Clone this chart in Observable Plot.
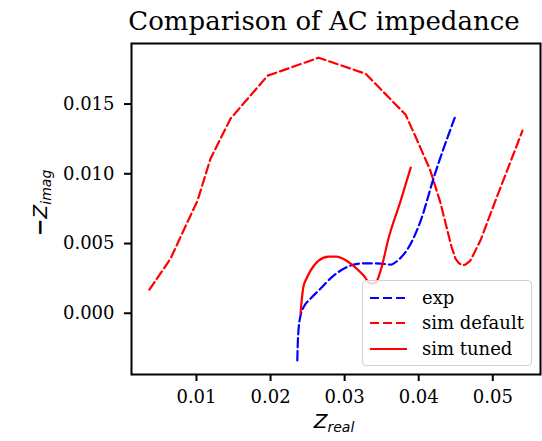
<!DOCTYPE html>
<html><head><meta charset="utf-8">
<script src="https://cdn.jsdelivr.net/npm/d3@7"></script>
<script src="https://cdn.jsdelivr.net/npm/@observablehq/plot@0.6"></script>
<style>
body{margin:0;background:#fff}
#wrap{position:relative;width:542px;height:441px}
#legend{position:absolute;left:362px;top:280px;width:170px;height:86px;background:rgba(255,255,255,0.8);border:1px solid #d0d0d0;border-radius:4px;font-family:"DejaVu Serif";font-size:18px;box-sizing:border-box;color:#000}
.row{position:absolute;left:0;height:20px;display:flex;align-items:center;white-space:nowrap}
.row svg{margin-left:7px;margin-right:15px}
</style></head><body><div id="wrap"></div>
<script>
const title = "Comparison of AC impedance";
const seriesNames = ["exp", "sim default", "sim tuned"];
const seriesColors = ["blue", "red", "red"];
const seriesDash = ["9,4", "9,4", null];

const expX = [0.02361,0.02372,0.02405,0.02459,0.0254,0.02649,0.02851,0.03081,0.03257,0.03486,0.03622,0.03716,0.03892,0.04027,0.04203,0.04486];
const expY = [-0.00338,-0.0016,-0.00016,0.00055,0.00105,0.00163,0.0027,0.00342,0.00358,0.00356,0.00349,0.00378,0.00499,0.00664,0.00972,0.01402];

const defX = [0.00365,0.00649,0.00824,0.01014,0.01189,0.01459,0.0196,0.02649,0.03284,0.03824,0.03982,0.04158,0.04293,0.04442,0.04496,0.04536,0.04586,0.0463,0.04698,0.04833,0.05036,0.05401];
const defY = [0.0017,0.0039,0.00592,0.00807,0.01108,0.01395,0.01703,0.01832,0.01717,0.01423,0.01237,0.01022,0.00793,0.00478,0.00392,0.00363,0.00342,0.00349,0.00378,0.00521,0.00807,0.01309];

const tunX = [0.02405,0.02442,0.02486,0.0254,0.02649,0.02784,0.02892,0.02973,0.03081,0.03257,0.03351,0.03419,0.03486,0.03595,0.03757,0.03892];
const tunY = [0.0,0.00186,0.00249,0.00306,0.00378,0.00406,0.00406,0.00392,0.00356,0.0027,0.00213,0.0022,0.00306,0.00542,0.00807,0.01044];

const xTicks = [0.01, 0.02, 0.03, 0.04, 0.05];
const yTicks = [0, 0.005, 0.01, 0.015];

const toRows = (xs, ys) => xs.map((x, i) => ({x, y: ys[i]}));
const expData = toRows(expX, expY);
const defData = toRows(defX, defY);
const tunData = toRows(tunX, tunY);

const chart = Plot.plot({
  width: 542, height: 441,
  marginLeft: 131, marginRight: 2, marginTop: 43, marginBottom: 67,
  style: {fontFamily: "DejaVu Serif", fontSize: "18px", color: "#000", background: "#fff"},
  x: {domain: [0.00123, 0.05644]},
  y: {domain: [-0.00439, 0.01934]},
  marks: [
    Plot.line(defData, {x: "x", y: "y", stroke: seriesColors[1], strokeWidth: 2.2, strokeDasharray: seriesDash[1], curve: "linear"}),
    Plot.line(expData, {x: "x", y: "y", stroke: seriesColors[0], strokeWidth: 2.2, strokeDasharray: seriesDash[0], curve: "monotone-x"}),
    Plot.line(tunData, {x: "x", y: "y", stroke: seriesColors[2], strokeWidth: 2.2, curve: "monotone-x"}),
    Plot.frame({stroke: "#000", strokeWidth: 2}),
    Plot.axisX({ticks: xTicks, tickFormat: d3.format(".2f"), tickSize: 7, tickPadding: 9, strokeWidth: 2, label: null}),
    Plot.axisY({ticks: yTicks, tickFormat: d3.format(".3f"), tickSize: 7, tickPadding: 10, strokeWidth: 2, label: null}),
    Plot.text([title], {frameAnchor: "top", dx: -12, dy: -14, lineAnchor: "bottom", fontSize: 26, fontFamily: "DejaVu Serif"}),
    Plot.text(["XLABEL"], {frameAnchor: "bottom", dx: -2, dy: 53, fontSize: 20, fontFamily: "DejaVu Sans"}),
    Plot.text(["YLABEL"], {frameAnchor: "left", dx: -91, dy: 27, rotate: -90, fontSize: 20, fontFamily: "DejaVu Sans"})
  ]
});

const svg = d3.select(chart);
svg.selectAll("text").filter(function(){ return this.textContent === "XLABEL"; }).each(function(){
  const t = d3.select(this).text(null);
  t.append("tspan").attr("font-style", "italic").text("Z");
  t.append("tspan").attr("font-style", "italic").attr("font-size", 14).attr("dy", "0.3em").text("real");
});
svg.selectAll("text").filter(function(){ return this.textContent === "YLABEL"; }).each(function(){
  const t = d3.select(this).text(null);
  t.append("tspan").attr("font-weight", "bold").attr("font-size", 21).text("\u2212");
  t.append("tspan").attr("font-style", "italic").text("Z");
  t.append("tspan").attr("font-style", "italic").attr("font-size", 14).attr("dy", "0.3em").text("imag");
});

const wrap = document.getElementById("wrap");
wrap.appendChild(chart);

const legend = document.createElement("div");
legend.id = "legend";
const rowTops = [6.5, 31.5, 57.5];
seriesNames.forEach((name, i) => {
  const row = document.createElement("div");
  row.className = "row";
  row.style.top = rowTops[i] + "px";
  const dash = seriesDash[i] ? ` stroke-dasharray="${seriesDash[i]}"` : "";
  row.innerHTML = `<svg width="37" height="20"><line x1="0" x2="37" y1="10" y2="10" stroke="${seriesColors[i]}" stroke-width="2.2"${dash}/></svg><span>${name}</span>`;
  legend.appendChild(row);
});
wrap.appendChild(legend);
</script>
</body></html>
